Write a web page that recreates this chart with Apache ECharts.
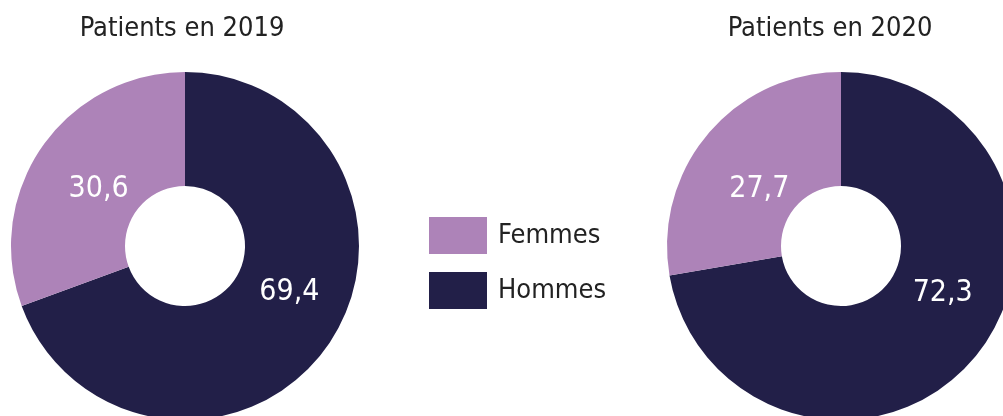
<!DOCTYPE html>
<html>
<head>
<meta charset="utf-8">
<script src="https://cdn.jsdelivr.net/npm/echarts@6/dist/echarts.min.js"></script>
<style>
html, body { margin: 0; padding: 0; background: #fff; }
#chart { width: 1003px; height: 416px; }
</style>
</head>
<body>
<div id="chart"></div>
<script>
// categories (legend order) and shares in %
const sexes = ['Femmes', 'Hommes'];
const share2019 = [30.6, 69.4];
const share2020 = [27.7, 72.3];
const years = ['Patients en 2019', 'Patients en 2020'];

const colors = { Femmes: '#ad83b8', Hommes: '#221f48' };
const font = '"Liberation Sans Narrow", "DejaVu Sans Condensed", sans-serif';

// label nudges (dataIndex 0 = Hommes, 1 = Femmes)
const nudges = [
    [{ dx: 6, dy: -22 }, { dx: 12, dy: 12 }],
    [{ dx: 10, dy: -30 }, { dx: 10, dy: 21 }]
];

function pieData(values) {
    // Hommes first so it starts at 12 o'clock clockwise
    return [1, 0].map(i => ({
        name: sexes[i],
        value: values[i],
        itemStyle: { color: colors[sexes[i]] }
    }));
}

function donut(values, center, idx) {
    return {
        type: 'pie',
        center: center,
        radius: [60, 174],
        startAngle: 90,
        clockwise: true,
        animation: false,
        silent: true,
        data: pieData(values),
        label: {
            show: true,
            position: 'inside',
            color: '#fff',
            fontFamily: font,
            fontSize: 30,
            formatter: p => String(p.value).replace('.', ',')
        },
        labelLine: { show: false },
        labelLayout: p => nudges[idx][p.dataIndex]
    };
}

const titleStyle = { fontFamily: font, fontSize: 27, fontWeight: 'normal', color: '#222' };

const chart = echarts.init(document.getElementById('chart'));
chart.setOption({
    backgroundColor: '#fff',
    title: [
        { text: years[0], left: 182, top: 15, padding: 0, textAlign: 'center', textStyle: titleStyle },
        { text: years[1], left: 830, top: 15, padding: 0, textAlign: 'center', textStyle: titleStyle }
    ],
    legend: {
        data: sexes,
        orient: 'vertical',
        left: 429,
        top: 217,
        padding: 0,
        itemWidth: 58,
        itemHeight: 37,
        itemGap: 18,
        icon: 'rect',
        selectedMode: false,
        textStyle: { fontFamily: font, fontSize: 27, color: '#222', padding: [0, 0, 0, 6] }
    },
    series: [
        donut(share2019, [185, 246], 0),
        donut(share2020, [841, 246], 1)
    ]
});
</script>
</body>
</html>
